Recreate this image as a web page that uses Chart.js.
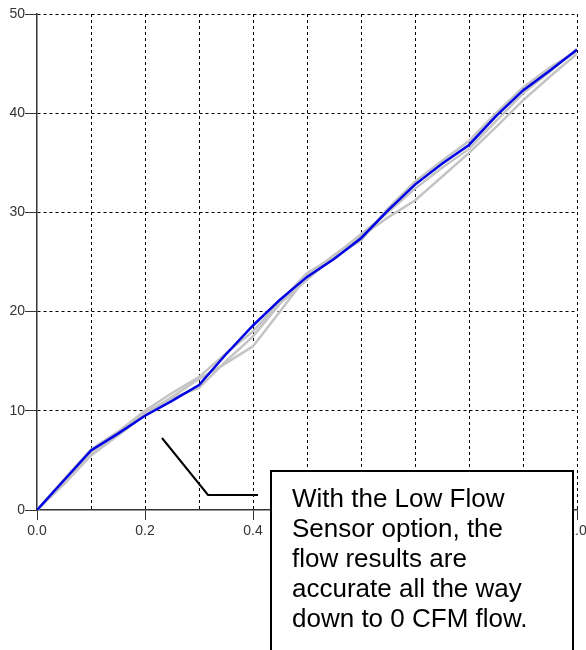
<!DOCTYPE html>
<html>
<head>
<meta charset="utf-8">
<script src="https://cdn.jsdelivr.net/npm/chart.js@4"></script>
<style>
  body { margin: 0; background: #fff; }
  #wrap { width: 586px; height: 650px; }
</style>
</head>
<body>
<div id="wrap"><canvas id="flow-chart" width="586" height="650"></canvas></div>
<script>
// flow readings, x in steps of 0.05
var xValues = [0, 0.05, 0.1, 0.15, 0.2, 0.25, 0.3, 0.35, 0.4, 0.45, 0.5, 0.55, 0.6, 0.65, 0.7, 0.75, 0.8, 0.85, 0.9, 0.95, 1.0];
var lowFlow = [0, 3.0, 6.0, 7.7, 9.5, 11.0, 12.6, 15.7, 18.6, 21.2, 23.5, 25.3, 27.4, 30.2, 32.8, 34.9, 36.8, 39.7, 42.3, 44.3, 46.4];
var run1 = [0, 2.6, 5.5, 7.5, 9.6, 11.4, 13.2, 14.8, 16.5, 20.0, 23.6, 25.7, 27.6, 29.5, 31.2, 33.6, 36.0, 38.6, 41.3, 43.7, 46.0];
var run2 = [0, 2.8, 5.8, 7.6, 9.8, 11.3, 12.3, 15.0, 17.5, 20.8, 23.2, 25.6, 27.8, 30.0, 32.4, 34.5, 36.4, 39.2, 42.0, 44.2, 46.5];
var run3 = [0, 3.1, 6.1, 7.9, 10.0, 11.8, 13.4, 15.8, 18.0, 21.0, 23.9, 25.5, 27.2, 30.4, 33.1, 35.2, 37.2, 40.0, 42.6, 44.6, 46.3];

var noteLines = ["With the Low Flow", "Sensor option, the", "flow results are", "accurate all the way", "down to 0 CFM flow."];

function pts(ys) {
    return xValues.map(function (x, i) { return { x: x, y: ys[i] }; });
}

function grayLine(ys) {
    return { data: pts(ys), borderColor: "#c4c4c4", borderWidth: 2.5, pointRadius: 0, tension: 0 };
}

// callout box drawn on top of everything
var noteBox = {
    id: "noteBox",
    afterDraw: function (chart) {
        var c = chart.ctx;
        c.save();
        c.strokeStyle = "#000";
        c.lineWidth = 2;
        c.beginPath();
        c.moveTo(162, 438);
        c.lineTo(208, 495);
        c.lineTo(258, 495);
        c.stroke();

        c.fillStyle = "#fff";
        c.fillRect(271, 471, 302, 200);
        c.strokeRect(271, 471, 302, 200);

        c.fillStyle = "#000";
        c.font = "26px 'Liberation Sans', Arial, sans-serif";
        c.textBaseline = "alphabetic";
        noteLines.forEach(function (t, i) {
            c.fillText(t, 292, 507 + i * 30);
        });
        c.restore();
    }
};

var ctx = document.getElementById("flow-chart");

var chart = new Chart(ctx, {
    type: 'line',
    data: {
        datasets: [
            { data: pts(lowFlow), borderColor: "#0000e6", borderWidth: 2.5, pointRadius: 0, tension: 0 },
            grayLine(run1),
            grayLine(run2),
            grayLine(run3)
        ]
    },
    plugins: [noteBox],
    options: {
        responsive: false,
        animation: false,
        layout: { padding: { top: 14, right: 9, left: 0, bottom: 0 } },
        plugins: {
            legend: { display: false },
            tooltip: { enabled: false }
        },
        scales: {
            x: {
                type: 'linear',
                min: 0,
                max: 1,
                afterFit: function (s) { s.height = 140; s.paddingRight = 0; s.paddingLeft = 0; },
                ticks: {
                    stepSize: 0.1,
                    color: "#333",
                    padding: 3,
                    maxRotation: 0,
                    autoSkip: false,
                    font: { family: "'Liberation Sans', Arial", size: 14 },
                    callback: function (v, i) { return i % 2 === 0 ? v.toFixed(1) : ""; }
                },
                grid: {
                    color: function (c) { return c.index === 0 ? "rgba(0,0,0,0)" : "#000"; },
                    tickColor: function (c) { return c.index % 2 === 0 ? "#333" : "rgba(0,0,0,0)"; },
                    tickLength: 10,
                    lineWidth: 1
                },
                border: { color: "#333", width: 1.5, dash: [3, 3] }
            },
            y: {
                min: 0,
                max: 50,
                afterFit: function (s) { s.width = 37; s.paddingTop = 0; s.paddingBottom = 0; },
                ticks: {
                    stepSize: 10,
                    color: "#333",
                    padding: 0,
                    font: { family: "'Liberation Sans', Arial", size: 14 }
                },
                grid: {
                    color: function (c) { return c.index === 0 ? "rgba(0,0,0,0)" : "#000"; },
                    tickColor: "#333",
                    tickLength: 12,
                    lineWidth: 1
                },
                border: { color: "#333", width: 1.5, dash: [3, 3] }
            }
        }
    }
});
</script>
</body>
</html>
